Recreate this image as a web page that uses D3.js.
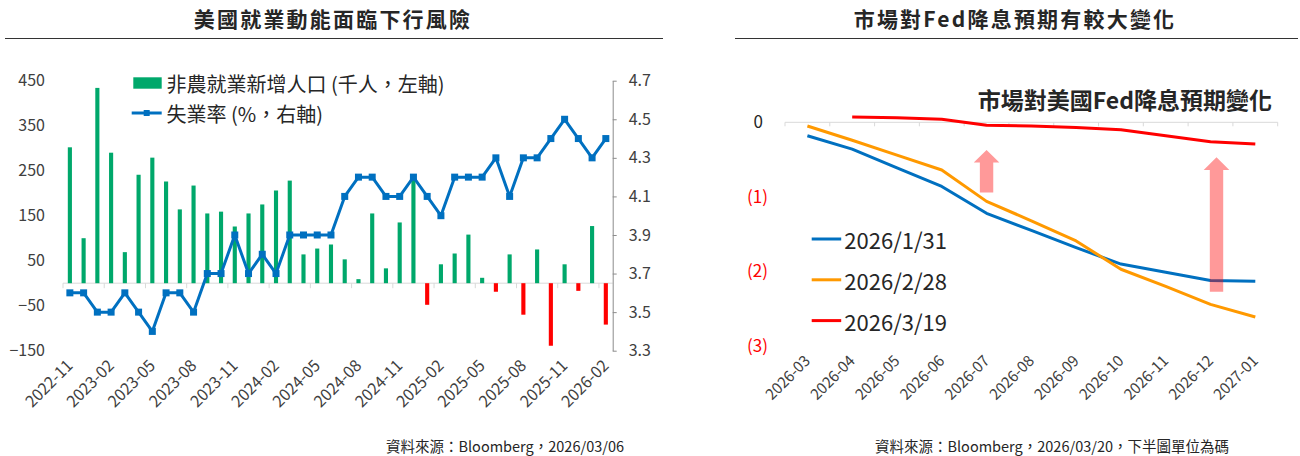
<!DOCTYPE html>
<html lang="zh-Hant-TW">
<head>
<meta charset="utf-8">
<script src="https://cdn.jsdelivr.net/npm/d3@7/dist/d3.min.js"></script>
<style>
  html, body { margin: 0; padding: 0; background: #fff; }
  svg { display: block; font-family: "Noto Sans CJK TC", "Noto Sans", sans-serif; }
</style>
</head>
<body>
<svg id="chart" width="1300" height="456" lang="zh-Hant-TW"></svg>
<script>
// ---------- Left chart data ----------
const months = [
  "2022-11","2022-12",
  "2023-01","2023-02","2023-03","2023-04","2023-05","2023-06","2023-07","2023-08","2023-09","2023-10","2023-11","2023-12",
  "2024-01","2024-02","2024-03","2024-04","2024-05","2024-06","2024-07","2024-08","2024-09","2024-10","2024-11","2024-12",
  "2025-01","2025-02","2025-03","2025-04","2025-05","2025-06","2025-07","2025-08","2025-09","2025-10","2025-11","2025-12",
  "2026-01","2026-02"
];
const payrolls = [
  302, 100,
  434, 290, 69, 241, 279, 226, 164, 217, 155, 159, 126, 155,
  175, 206, 228, 64, 77, 86, 53, 9, 155, 33, 135, 232,
  -48, 42, 66, 108, 12, -19, 64, -70, 75, -139, 42, -17,
  127, -92
];
const unemployment = [
  3.6, 3.6,
  3.5, 3.5, 3.6, 3.5, 3.4, 3.6, 3.6, 3.5, 3.7, 3.7, 3.9, 3.7,
  3.8, 3.7, 3.9, 3.9, 3.9, 3.9, 4.1, 4.2, 4.2, 4.1, 4.1, 4.2,
  4.1, 4.0, 4.2, 4.2, 4.2, 4.3, 4.1, 4.3, 4.3, 4.4, 4.5, 4.4,
  4.3, 4.4
];
const leftTicks = [450, 350, 250, 150, 50, -50, -150];
const rightTicks = [4.7, 4.5, 4.3, 4.1, 3.9, 3.7, 3.5, 3.3];
const leftLabelMonths = ["2022-11","2023-02","2023-05","2023-08","2023-11","2024-02","2024-05","2024-08","2024-11","2025-02","2025-05","2025-08","2025-11","2026-02"];
const leftTitle = "美國就業動能面臨下行風險";
const leftLegend = ["非農就業新增人口 (千人，左軸)", "失業率 (%，右軸)"];
const leftSource = "資料來源：Bloomberg，2026/03/06";

// ---------- Right chart data ----------
const fedMonths = ["2026-03","2026-04","2026-05","2026-06","2026-07","2026-08","2026-09","2026-10","2026-11","2026-12","2027-01"];
const seriesNames = ["2026/1/31", "2026/2/28", "2026/3/19"];
const cutsJan31 = [-0.18, -0.36, -0.61, -0.86, -1.22, -1.45, -1.68, -1.90, -2.01, -2.12, -2.13];
const cutsFeb28 = [-0.05, -0.24, -0.44, -0.64, -1.06, -1.32, -1.59, -1.97, -2.20, -2.44, -2.61];
const cutsMar19 = [null, 0.07, 0.06, 0.04, -0.04, -0.05, -0.07, -0.10, -0.18, -0.26, -0.29];
const fedTicks = [0, -1, -2, -3];
const arrowMonths = ["2026-07", "2026-12"];
const arrowFrom = [-0.94, -2.27];
const arrowTo = [-0.37, -0.47];
const rightTitle = "市場對Fed降息預期有較大變化";
const innerTitle = "市場對美國Fed降息預期變化";
const rightSource = "資料來源：Bloomberg，2026/03/20，下半圖單位為碼";

// ---------- styles ----------
const TXT = "#262626";
const GREEN = "#00a86b";
const RED = "#ff0000";
const BLUE = "#0070c0";
const ORANGE = "#ff9900";
const seriesColors = [BLUE, ORANGE, RED];

const svg = d3.select("#chart");

// ================= LEFT CHART =================
const L = { x0: 63, x1: 612.7, yTop: 80.7, yBot: 350.7 };
const xL = d3.scaleBand().domain(months).range([L.x0, L.x1]).paddingInner(0.7).paddingOuter(0.35);
const yL = d3.scaleLinear().domain([-150, 450]).range([L.yBot, L.yTop]);
const yU = d3.scaleLinear().domain([3.3, 4.7]).range([L.yBot, L.yTop]);
const stepL = xL.step();
const bwL = xL.bandwidth();
const cxL = m => xL(m) + bwL / 2;

// title + rule
svg.append("text").attr("x", 333).attr("y", 18).attr("text-anchor", "middle")
  .attr("dominant-baseline", "central").attr("font-size", 21).attr("font-weight", "bold")
  .attr("letter-spacing", "2.2px").attr("fill", TXT).text(leftTitle);
svg.append("line").attr("x1", 5).attr("x2", 663).attr("y1", 38.5).attr("y2", 38.5)
  .attr("stroke", "#333").attr("stroke-width", 1);

// zero line
svg.append("line").attr("x1", L.x0).attr("x2", L.x1).attr("y1", yL(0)).attr("y2", yL(0))
  .attr("stroke", "#d9d9d9").attr("stroke-width", 1);
// tick marks at group boundaries
svg.append("g").selectAll("line").data(leftLabelMonths).join("line")
  .attr("x1", m => xL(m) - (stepL - bwL) / 2).attr("x2", m => xL(m) - (stepL - bwL) / 2)
  .attr("y1", yL(0)).attr("y2", yL(0) + 5).attr("stroke", "#d9d9d9");

// bars
svg.append("g").selectAll("rect").data(months).join("rect")
  .attr("x", m => xL(m))
  .attr("width", bwL)
  .attr("y", (m, i) => Math.min(yL(payrolls[i]), yL(0)))
  .attr("height", (m, i) => Math.abs(yL(payrolls[i]) - yL(0)))
  .attr("fill", (m, i) => payrolls[i] >= 0 ? GREEN : RED);

// unemployment line
const lineU = d3.line().x(d => cxL(d.m)).y(d => yU(d.v));
const uData = months.map((m, i) => ({ m, v: unemployment[i] }));
svg.append("path").datum(uData).attr("d", lineU).attr("fill", "none")
  .attr("stroke", BLUE).attr("stroke-width", 3).attr("stroke-linejoin", "round");
svg.append("g").selectAll("rect").data(uData).join("rect")
  .attr("x", d => cxL(d.m) - 3.5).attr("y", d => yU(d.v) - 3.5)
  .attr("width", 7).attr("height", 7).attr("fill", BLUE);

// left axis
const axL = svg.append("g").attr("transform", `translate(${L.x0},0)`)
  .call(d3.axisLeft(yL).tickValues(leftTicks).tickSize(0).tickPadding(18));
axL.select(".domain").remove();
axL.selectAll("text").attr("font-size", 16).attr("fill", "#404040").attr("font-family", "'Noto Sans CJK TC'");

// right axis
const axR = svg.append("g").attr("transform", `translate(${L.x1},0)`)
  .call(d3.axisRight(yU).tickValues(rightTicks).tickSize(4).tickSizeOuter(0).tickPadding(12).tickFormat(d3.format(".1f")));
axR.select(".domain").attr("stroke", "#8c8c8c");
axR.selectAll("line").attr("stroke", "#8c8c8c");
axR.selectAll("text").attr("font-size", 16).attr("fill", "#404040").attr("font-family", "'Noto Sans CJK TC'");

// x labels
const axXL = svg.append("g").attr("transform", `translate(0,${L.yBot + 12})`)
  .call(d3.axisBottom(xL).tickValues(leftLabelMonths).tickSize(0).tickPadding(0));
axXL.select(".domain").remove();
axXL.selectAll("text")
  .attr("font-size", 16).attr("fill", "#404040").attr("font-family", "'Noto Sans CJK TC'")
  .attr("text-anchor", "end").attr("dy", "0.35em")
  .attr("transform", "rotate(-45)");

// legend
svg.append("rect").attr("x", 133.3).attr("y", 77.3).attr("width", 28.4).attr("height", 11.4).attr("fill", GREEN);
svg.append("line").attr("x1", 131.7).attr("x2", 161.7).attr("y1", 113).attr("y2", 113)
  .attr("stroke", BLUE).attr("stroke-width", 3);
svg.append("rect").attr("x", 143.7).attr("y", 110).attr("width", 6).attr("height", 6).attr("fill", BLUE);
svg.append("g").selectAll("text").data(leftLegend).join("text")
  .attr("x", 166.5).attr("y", (d, i) => 83 + i * 30.5)
  .attr("dominant-baseline", "central").attr("font-size", 20).attr("fill", TXT).text(d => d);

// source
svg.append("text").attr("x", 624).attr("y", 445).attr("text-anchor", "end")
  .attr("dominant-baseline", "central").attr("font-size", 14.5).attr("fill", TXT).text(leftSource);

// ================= RIGHT CHART =================
const R = { x0: 785, x1: 1277.7 };
const xR = d3.scaleBand().domain(fedMonths).range([R.x0, R.x1]);
const yR = d3.scaleLinear().domain([0, -3]).range([122.3, 346.1]);
const cxR = m => xR(m) + xR.bandwidth() / 2;

svg.append("text").attr("x", 1015).attr("y", 18).attr("text-anchor", "middle")
  .attr("dominant-baseline", "central").attr("font-size", 21).attr("font-weight", "bold")
  .attr("letter-spacing", "2.2px").attr("fill", TXT).text(rightTitle);
svg.append("line").attr("x1", 735).attr("x2", 1298).attr("y1", 38.5).attr("y2", 38.5)
  .attr("stroke", "#333").attr("stroke-width", 1);

// inner title
svg.append("text").attr("x", 1272).attr("y", 99).attr("text-anchor", "end")
  .attr("dominant-baseline", "central").attr("font-size", 23).attr("font-weight", "bold")
  .attr("fill", TXT).text(innerTitle);

// x axis line + ticks
svg.append("line").attr("x1", R.x0).attr("x2", R.x1).attr("y1", yR(0)).attr("y2", yR(0))
  .attr("stroke", "#d9d9d9");
svg.append("g").selectAll("line").data(d3.range(fedMonths.length + 1)).join("line")
  .attr("x1", k => R.x0 + k * xR.step()).attr("x2", k => R.x0 + k * xR.step())
  .attr("y1", yR(0)).attr("y2", yR(0) + 4).attr("stroke", "#d9d9d9");

// y labels
const fmtCut = v => v === 0 ? "0" : `(${Math.abs(v)})`;
const axYR = svg.append("g").attr("transform", `translate(${R.x0},0)`)
  .call(d3.axisLeft(yR).tickValues(fedTicks).tickSize(0).tickPadding(17).tickFormat(fmtCut));
axYR.select(".domain").remove();
axYR.selectAll("text").attr("font-size", 17).attr("font-family", "'Noto Sans CJK TC'")
  .attr("fill", d => d < 0 ? RED : TXT)
  .attr("dx", d => d === 0 ? -5 : 0);

// x labels
const axXR = svg.append("g").attr("transform", `translate(0,${yR(-3) + 12})`)
  .call(d3.axisBottom(xR).tickValues(fedMonths).tickSize(0).tickPadding(0));
axXR.select(".domain").remove();
axXR.selectAll("text")
  .attr("font-size", 15).attr("fill", "#404040").attr("font-family", "'Noto Sans CJK TC'")
  .attr("text-anchor", "end").attr("dy", "0.35em")
  .attr("transform", "rotate(-45)");

// lines
const allSeries = [cutsJan31, cutsFeb28, cutsMar19];
const lineR = d3.line().defined(d => d.v !== null).x(d => cxR(d.m)).y(d => yR(d.v));
allSeries.forEach((s, si) => {
  svg.append("path").datum(fedMonths.map((m, i) => ({ m, v: s[i] })))
    .attr("d", lineR).attr("fill", "none").attr("stroke", seriesColors[si])
    .attr("stroke-width", 3).attr("stroke-linejoin", "round");
});

// arrows
arrowMonths.forEach((m, i) => {
  const cx = cxR(m) + (i === 1 ? 6 : 0);
  const yb = yR(arrowFrom[i]), yt = yR(arrowTo[i]);
  const hw = 6.7, hh = 12.7, ahw = 12.8;
  const p = d3.path();
  p.moveTo(cx - hw, yb); p.lineTo(cx - hw, yt + hh); p.lineTo(cx - ahw, yt + hh);
  p.lineTo(cx, yt); p.lineTo(cx + ahw, yt + hh); p.lineTo(cx + hw, yt + hh);
  p.lineTo(cx + hw, yb); p.closePath();
  svg.append("path").attr("d", p.toString()).attr("fill", RED).attr("fill-opacity", 0.4);
});

// legend
const lg = svg.append("g").selectAll("g").data(seriesNames).join("g")
  .attr("transform", (d, i) => `translate(811.7,${239 + i * 40.8})`);
lg.append("line").attr("x1", 0).attr("x2", 29.5).attr("stroke", (d, i) => seriesColors[i]).attr("stroke-width", 3);
lg.append("text").attr("x", 32.6).attr("dominant-baseline", "central").attr("font-size", 22)
  .attr("fill", TXT).text(d => d);

// source
svg.append("text").attr("x", 1229).attr("y", 445).attr("text-anchor", "end")
  .attr("dominant-baseline", "central").attr("font-size", 14.5).attr("fill", TXT).text(rightSource);
</script>
</body>
</html>
